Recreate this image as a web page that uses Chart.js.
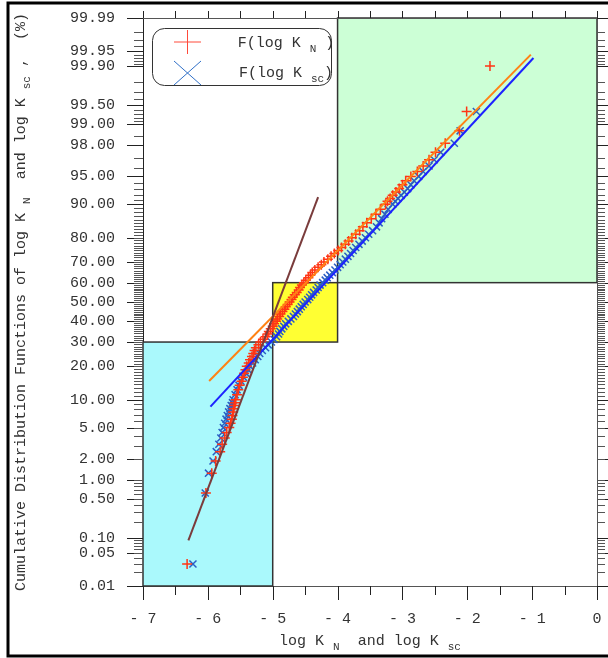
<!DOCTYPE html>
<html>
<head>
<meta charset="utf-8">
<script src="https://cdn.jsdelivr.net/npm/chart.js@4/dist/chart.umd.min.js"></script>
<style>
  body { margin: 0; background: #fff; }
  canvas { display: block; }
</style>
</head>
<body>
<canvas id="probChart" width="608" height="658"></canvas>
<script>
// cumulative percent (plotting positions), shared by both series
const cumPct = [0.03, 0.62, 1.25, 1.87, 2.5, 3.12, 3.75, 4.37, 5.0, 5.62, 6.25, 6.87, 7.5, 8.12, 8.75, 9.37, 10.0,
  11.25, 12.5, 13.75, 15, 16.25, 17.5, 18.75, 20, 21.25, 22.5, 23.75, 25, 26.25, 27.5, 28.75, 30,
  31.25, 32.5, 33.75, 35, 36.25, 37.5, 38.75, 40, 41.25, 42.5, 43.75, 45, 46.25, 47.5, 48.75, 50,
  51.25, 52.5, 53.75, 55, 56.25, 57.5, 58.75, 60, 61.25, 62.5, 63.75, 65, 66.25, 67.5, 68.75, 70,
  71.25, 72.5, 73.75, 75, 76.25, 77.5, 78.75, 80, 81.25, 82.5, 83.75, 85, 86.25, 87.5, 88.75, 90,
  90.62, 91.25, 91.87, 92.5, 93.12, 93.75, 94.37, 95, 95.62, 96.25, 96.87, 97.5, 98.12, 98.75, 99.37, 99.9];

// log K_N  (red +)
const logKN = [-6.32, -6.03, -5.94, -5.88, -5.81, -5.78, -5.74, -5.71, -5.67, -5.65, -5.63, -5.62, -5.61, -5.60, -5.59, -5.58, -5.57,
  -5.55, -5.53, -5.51, -5.48, -5.46, -5.44, -5.42, -5.40, -5.37, -5.35, -5.32, -5.30, -5.28, -5.26, -5.22, -5.19,
  -5.15, -5.11, -5.08, -5.06, -5.03, -5.00, -4.98, -4.95, -4.93, -4.90, -4.88, -4.85, -4.82, -4.80, -4.77, -4.74,
  -4.71, -4.69, -4.66, -4.63, -4.60, -4.58, -4.55, -4.52, -4.49, -4.45, -4.42, -4.39, -4.35, -4.30, -4.25, -4.21,
  -4.15, -4.10, -4.05, -3.99, -3.94, -3.88, -3.83, -3.78, -3.72, -3.66, -3.61, -3.55, -3.48, -3.41, -3.34, -3.26,
  -3.23, -3.19, -3.15, -3.10, -3.05, -3.00, -2.95, -2.87, -2.77, -2.68, -2.59, -2.49, -2.34, -2.12, -2.01, -1.65];

// log K_sc  (blue x)
const logKsc = [-6.23, -6.04, -5.99, -5.92, -5.87, -5.83, -5.80, -5.78, -5.76, -5.74, -5.72, -5.70, -5.68, -5.66, -5.64, -5.62, -5.61,
  -5.58, -5.55, -5.52, -5.49, -5.45, -5.41, -5.38, -5.35, -5.31, -5.27, -5.23, -5.20, -5.16, -5.11, -5.07, -5.02,
  -4.98, -4.94, -4.91, -4.89, -4.86, -4.83, -4.80, -4.76, -4.72, -4.68, -4.65, -4.62, -4.59, -4.56, -4.53, -4.50,
  -4.46, -4.43, -4.40, -4.37, -4.33, -4.30, -4.27, -4.23, -4.19, -4.16, -4.12, -4.08, -4.04, -4.00, -3.96, -3.92,
  -3.88, -3.84, -3.80, -3.76, -3.72, -3.67, -3.62, -3.57, -3.52, -3.46, -3.40, -3.36, -3.32, -3.27, -3.22, -3.15,
  -3.11, -3.07, -3.02, -2.97, -2.92, -2.87, -2.82, -2.75, -2.68, -2.59, -2.51, -2.41, -2.20, -2.11, -1.86, null];

// fitted lines: [x, cumulative %] end points
const brownX = [-6.3, -4.3];
const brownPct = [0.09, 91.5];
const orangeX = [-5.98, -1.02];
const orangePct = [15.05, 99.94];
const blueX = [-5.96, -0.98];
const bluePct = [8.53, 99.93];

// shaded regions
const regXFrom = [-7, -5, -4];
const regXTo = [-5, -4, 0];
const regPctFrom = [0.01, 30, 60];
const regPctTo = [30, 60, 99.99];
const regColors = ['#aaf9fc', '#ffff33', '#ccffd6'];

// axis ticks
const yTickPct = [0.01, 0.05, 0.10, 0.50, 1, 2, 5, 10, 20, 30, 40, 50, 60, 70, 80, 90, 95, 98, 99, 99.5, 99.9, 99.95, 99.99];
const xTicks = [-7, -6, -5, -4, -3, -2, -1, 0];

function steps(a, b, s) {
    const out = [];
    for (let v = a; v <= b + 1e-9; v += s) out.push(Math.round(v * 1000) / 1000);
    return out;
}
const yMinorPct = [].concat(steps(0.02, 0.09, 0.01), steps(0.2, 0.9, 0.1), steps(1, 9, 1), steps(11, 89, 1),
    [91, 92, 93, 94, 96, 97, 98.5], steps(99.1, 99.4, 0.1), [99.6, 99.7, 99.8], steps(99.91, 99.94, 0.01), [99.96, 99.97, 99.98]);

// inverse normal CDF (probability paper)
function probit(pct) {
    const p = pct / 100;
    const a = [-3.969683028665376e+01, 2.209460984245205e+02, -2.759285104469687e+02, 1.383577518672690e+02, -3.066479806614716e+01, 2.506628277459239e+00];
    const b = [-5.447609879822406e+01, 1.615858368580409e+02, -1.556989798598866e+02, 6.680131188771972e+01, -1.328068155288572e+01];
    const c = [-7.784894002430293e-03, -3.223964580411365e-01, -2.400758277161838e+00, -2.549732539343734e+00, 4.374664141464968e+00, 2.938163982698783e+00];
    const d = [7.784695709041462e-03, 3.224671290700398e-01, 2.445134137142996e+00, 3.754408661907416e+00];
    const pl = 0.02425;
    let q, r;
    if (p < pl) {
        q = Math.sqrt(-2 * Math.log(p));
        return (((((c[0] * q + c[1]) * q + c[2]) * q + c[3]) * q + c[4]) * q + c[5]) / ((((d[0] * q + d[1]) * q + d[2]) * q + d[3]) * q + 1);
    }
    if (p > 1 - pl) {
        q = Math.sqrt(-2 * Math.log(1 - p));
        return -(((((c[0] * q + c[1]) * q + c[2]) * q + c[3]) * q + c[4]) * q + c[5]) / ((((d[0] * q + d[1]) * q + d[2]) * q + d[3]) * q + 1);
    }
    q = p - 0.5;
    r = q * q;
    return (((((a[0] * r + a[1]) * r + a[2]) * r + a[3]) * r + a[4]) * r + a[5]) * q / (((((b[0] * r + b[1]) * r + b[2]) * r + b[3]) * r + b[4]) * r + 1);
}

function toPoints(xs, pcts) {
    const pts = [];
    xs.forEach((x, i) => { if (x !== null) pts.push({ x: x, y: probit(pcts[i]) }); });
    return pts;
}

const FONT = '"Liberation Mono", "DejaVu Sans Mono", monospace';
const TXT = '#333';

// text with subscripts
function drawRich(ctx, segs, x, y, size) {
    const sub = Math.round(size * 0.7);
    let w = 0;
    segs.forEach(s => {
        ctx.font = (s.sub ? sub : size) + 'px ' + FONT;
        s.w = ctx.measureText(s.t).width;
        w += s.w;
    });
    let cx = x - w / 2;
    segs.forEach(s => {
        ctx.font = (s.sub ? sub : size) + 'px ' + FONT;
        ctx.fillText(s.t, cx, s.sub ? y + 5 : y);
        cx += s.w;
    });
}

const decoPlugin = {
    id: 'deco',
    beforeDatasetsDraw(chart) {
        const ctx = chart.ctx, xs = chart.scales.x, ys = chart.scales.y;
        ctx.save();
        regColors.forEach((col, i) => {
            const l = xs.getPixelForValue(regXFrom[i]), r = xs.getPixelForValue(regXTo[i]);
            const t = ys.getPixelForValue(probit(regPctTo[i])), b = ys.getPixelForValue(probit(regPctFrom[i]));
            ctx.fillStyle = col;
            ctx.fillRect(l, t, r - l, b - t);
            ctx.strokeStyle = '#333';
            ctx.lineWidth = 1.5;
            ctx.strokeRect(l, t, r - l, b - t);
        });
        ctx.restore();
    },
    afterDraw(chart) {
        const ctx = chart.ctx, xs = chart.scales.x, ys = chart.scales.y;
        const a = chart.chartArea;
        ctx.save();
        // plot frame top / right
        ctx.strokeStyle = '#555';
        ctx.lineWidth = 1;
        ctx.beginPath();
        ctx.moveTo(a.left, a.top + 0.5); ctx.lineTo(a.right, a.top + 0.5);
        ctx.moveTo(a.right + 0.5, a.top); ctx.lineTo(a.right + 0.5, a.bottom);
        ctx.stroke();
        // y ticks left and right
        ctx.strokeStyle = '#222';
        ctx.beginPath();
        yTickPct.forEach(p => {
            const py = Math.round(ys.getPixelForValue(probit(p))) + 0.5;
            ctx.moveTo(a.left - 16, py); ctx.lineTo(a.left, py);
            ctx.moveTo(a.right, py); ctx.lineTo(a.right + 12, py);
        });
        ctx.stroke();
        ctx.strokeStyle = '#555';
        ctx.beginPath();
        yMinorPct.forEach(p => {
            const py = Math.round(ys.getPixelForValue(probit(p))) + 0.5;
            ctx.moveTo(a.left - 9, py); ctx.lineTo(a.left, py);
            ctx.moveTo(a.right, py); ctx.lineTo(a.right + 8, py);
        });
        ctx.stroke();
        // x ticks bottom and top
        ctx.strokeStyle = '#222';
        ctx.beginPath();
        steps(-7, 0, 0.5).forEach(v => {
            const px = Math.round(xs.getPixelForValue(v)) + 0.5;
            const major = Number.isInteger(v);
            ctx.moveTo(px, a.bottom); ctx.lineTo(px, a.bottom + (major ? 14 : 9));
            ctx.moveTo(px, a.top); ctx.lineTo(px, a.top - 7);
        });
        ctx.stroke();

        // axis titles
        ctx.fillStyle = TXT;
        ctx.textBaseline = 'alphabetic';
        ctx.textAlign = 'left';
        drawRich(ctx, [{ t: 'log K ' }, { t: 'N', sub: true }, { t: '  and log K ' }, { t: 'sc', sub: true }],
            (a.left + a.right) / 2, 645, 15);
        ctx.save();
        ctx.translate(25, 302);
        ctx.rotate(-Math.PI / 2);
        drawRich(ctx, [{ t: 'Cumulative Distribution Functions of log K ' }, { t: 'N', sub: true },
            { t: '  and log K ' }, { t: 'sc', sub: true }, { t: ' ,  (%)' }], 0, 0, 15);
        ctx.restore();

        // legend box
        const lx = 152, ly = 28, lw = 179, lh = 57, rr = 12;
        ctx.strokeStyle = '#333';
        ctx.lineWidth = 1;
        ctx.beginPath();
        ctx.roundRect(lx + 0.5, ly + 0.5, lw, lh, rr);
        ctx.fillStyle = '#fff';
        ctx.fill();
        ctx.stroke();
        ctx.lineWidth = 1;
        ctx.strokeStyle = '#ff4a3a';
        ctx.beginPath();
        ctx.moveTo(174, 42); ctx.lineTo(201, 42);
        ctx.moveTo(187.5, 30); ctx.lineTo(187.5, 54);
        ctx.stroke();
        ctx.strokeStyle = '#3070c8';
        ctx.beginPath();
        ctx.moveTo(174, 61); ctx.lineTo(201, 85);
        ctx.moveTo(201, 61); ctx.lineTo(174, 85);
        ctx.stroke();
        ctx.fillStyle = TXT;
        drawRich(ctx, [{ t: 'F(log K ' }, { t: 'N', sub: true }, { t: ' )' }], 286, 47, 15);
        drawRich(ctx, [{ t: 'F(log K ' }, { t: 'sc', sub: true }, { t: ')' }], 286, 77, 15);

        // outer frame
        ctx.strokeStyle = '#000';
        ctx.lineWidth = 3;
        ctx.beginPath();
        ctx.moveTo(612, 3); ctx.lineTo(8, 3); ctx.lineTo(8, 656); ctx.lineTo(612, 656);
        ctx.stroke();
        ctx.restore();
    }
};

const ctx = document.getElementById('probChart').getContext('2d');
const probChart = new Chart(ctx, {
    type: 'scatter',
    data: {
        datasets: [
            {
                label: 'brown fit',
                data: toPoints(brownX, brownPct),
                showLine: true, pointRadius: 0,
                borderColor: '#7a3c3c', borderWidth: 2
            },
            {
                label: 'orange fit',
                data: toPoints(orangeX, orangePct),
                showLine: true, pointRadius: 0,
                borderColor: '#ff8214', borderWidth: 2
            },
            {
                label: 'blue fit',
                data: toPoints(blueX, bluePct),
                showLine: true, pointRadius: 0,
                borderColor: '#1c22ff', borderWidth: 2
            },
            {
                label: 'F(log K_N)',
                data: toPoints(logKN, cumPct),
                pointStyle: 'cross', pointRadius: 5,
                borderColor: '#ff3514', borderWidth: 1.5
            },
            {
                label: 'F(log K_sc)',
                data: toPoints(logKsc, cumPct),
                pointStyle: 'crossRot', pointRadius: 5,
                borderColor: '#2a5ec4', borderWidth: 1.5
            }
        ]
    },
    options: {
        responsive: false,
        animation: false,
        layout: { padding: { top: 18, right: 11, left: 0, bottom: 0 } },
        plugins: { legend: { display: false }, tooltip: { enabled: false } },
        scales: {
            x: {
                type: 'linear',
                min: -7, max: 0,
                afterFit: s => { s.height = 72; s.paddingLeft = 0; s.paddingRight = 0; },
                afterBuildTicks: s => { s.ticks = xTicks.map(v => ({ value: v })); },
                ticks: {
                    autoSkip: false, maxRotation: 0, padding: 10,
                    callback: v => v === 0 ? '0' : '- ' + Math.abs(v),
                    font: { family: FONT, size: 15 }, color: TXT
                },
                grid: { drawOnChartArea: false, tickLength: 14, tickColor: 'transparent' },
                border: { color: '#555', width: 1 }
            },
            y: {
                type: 'linear',
                min: probit(0.01), max: probit(99.99),
                afterFit: s => { s.width = 143; s.paddingTop = 0; s.paddingBottom = 0; },
                afterBuildTicks: s => { s.ticks = yTickPct.map(p => ({ value: probit(p) })); },
                ticks: {
                    autoSkip: false, padding: 12,
                    callback: (v, i) => yTickPct[i].toFixed(2),
                    font: { family: FONT, size: 15 }, color: TXT
                },
                grid: { drawOnChartArea: false, tickLength: 16, tickColor: 'transparent' },
                border: { color: '#222', width: 1 }
            }
        }
    },
    plugins: [decoPlugin]
});
</script>
</body>
</html>
